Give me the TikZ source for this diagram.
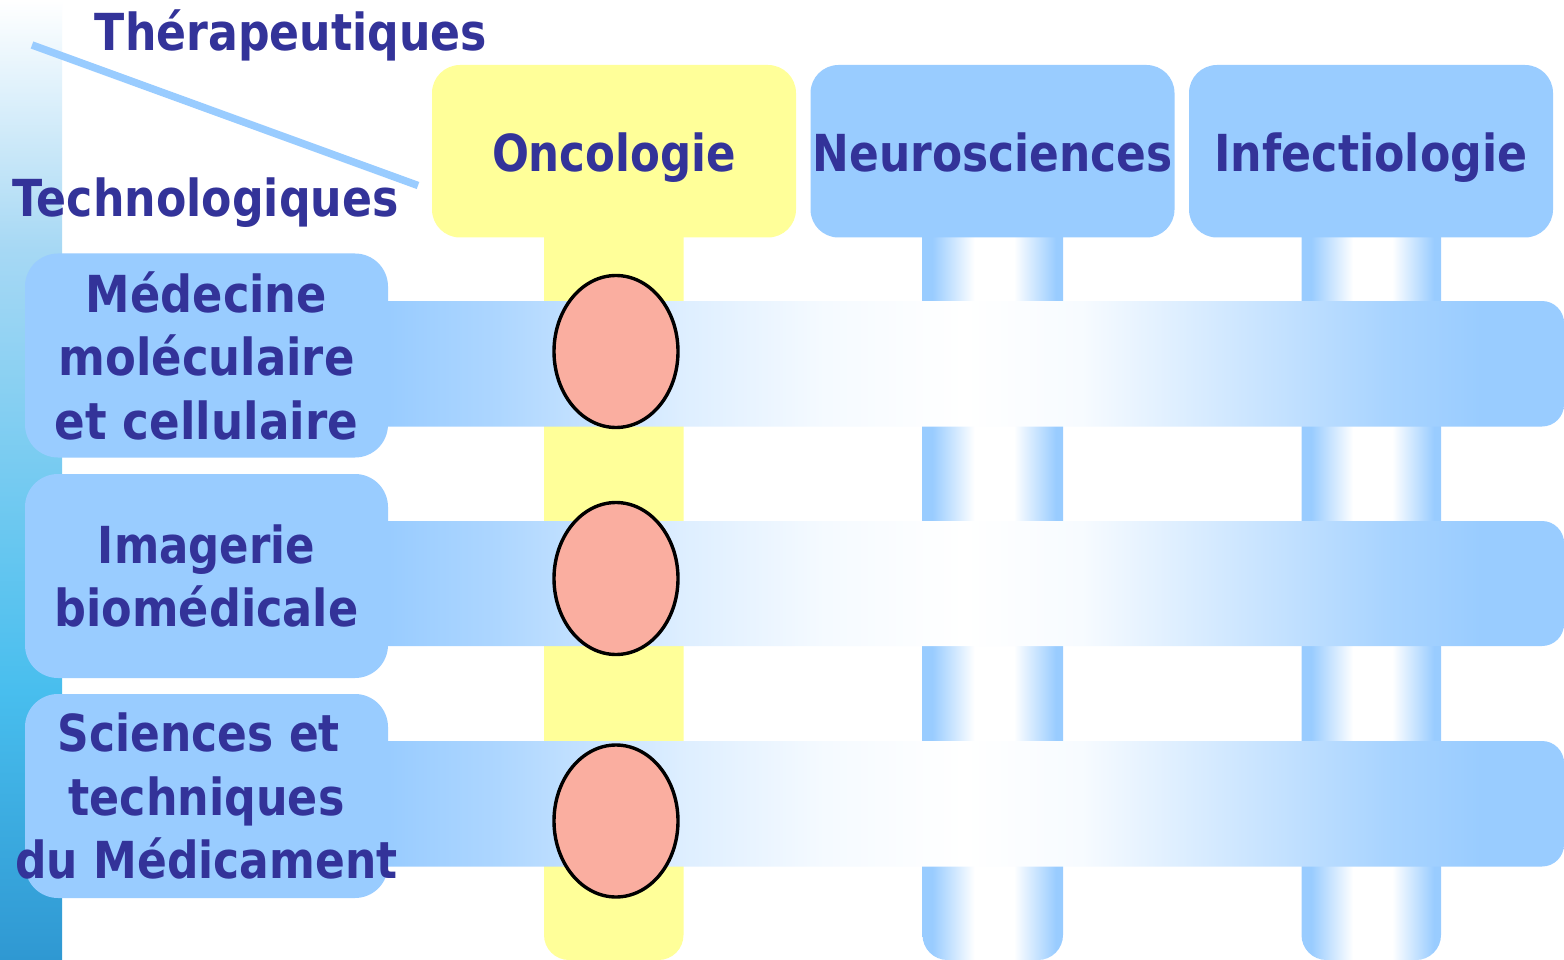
\documentclass[tikz,border=0pt]{standalone}
\usepackage{graphicx}
\usepackage{fontspec}
\setmainfont{DejaVu Sans}
\usetikzlibrary{shapes.geometric}
\definecolor{lb}{HTML}{99CCFF}
\definecolor{yel}{HTML}{FFFF99}
\definecolor{txt}{HTML}{333399}
\definecolor{sal}{HTML}{FAAEA0}
\definecolor{lbA}{HTML}{2F98D2}
\definecolor{lbB}{HTML}{48BEEE}
\definecolor{lbC}{HTML}{A6D8F4}
\colorlet{rbA}{lb!80!white}
\colorlet{rbB}{lb!33!white}
\colorlet{rbE}{lb!10!white}
\colorlet{rbF}{lb!8!white}
\colorlet{rbC}{lb!50!white}
\colorlet{rbD}{lb!85!white}
\pgfdeclareverticalshading{leftbar}{100bp}{color(0bp)=(lbA); color(25bp)=(lbA); color(39bp)=(lbB); color(62bp)=(lbC); color(75bp)=(white); color(100bp)=(white)}
\pgfdeclarehorizontalshading{colbar}{100bp}{color(0bp)=(lb); color(28.5bp)=(lb); color(43.5bp)=(white); color(57.5bp)=(white); color(72.5bp)=(lb); color(100bp)=(lb)}
\pgfdeclarehorizontalshading{rowbar}{100bp}{color(0bp)=(lb); color(25bp)=(lb); color(29.75bp)=(rbA); color(37.5bp)=(rbB); color(43.5bp)=(rbE); color(49.5bp)=(white); color(54.5bp)=(rbF); color(61.5bp)=(rbC); color(67.5bp)=(rbD); color(71.5bp)=(lb); color(100bp)=(lb)}
\newcommand{\fitw}[2]{\resizebox{#1pt}{\height}{#2}}
\begin{document}
\begin{tikzpicture}[x=1pt,y=-1pt,
  every node/.style={inner sep=0pt, outer sep=0pt},
  lbl/.style={font=\fontsize{51}{63.5}\selectfont\bfseries, text=txt},
  hbox/.style={lbl, rounded corners=28pt, minimum width=364pt, minimum height=172.5pt, text height=45.4pt, text depth=5pt},
  rbox/.style={lbl, fill=lb, rounded corners=33pt, minimum width=363pt, minimum height=204pt, align=center},
  dot/.style={ellipse, fill=sal, draw=black, line width=3.4pt, minimum width=124pt, minimum height=152pt}]
\fill[white] (0,0) rectangle (1564,960);
\useasboundingbox (0,0) rectangle (1564,960);
% left gradient bar
\shade[shading=leftbar] (0,0) rectangle (62,960);
% diagonal
\coordinate (d1) at (32,45);
\coordinate (d2) at (418,185.5);
\draw[lb, line width=7.5pt] (d1) -- (d2);
\node[lbl, anchor=base] (thera) at (291,50.7) {\fitw{392}{Thérapeutiques}};
\node[lbl, anchor=base] (techno) at (205.5,216.7) {\fitw{386}{Technologiques}};
% column bars
\fill[yel, rounded corners=25pt] (544,200) rectangle (683.5,960);
\shade[shading=colbar, rounded corners=25pt] (922.5,200) rectangle (1063,960);
\shade[shading=colbar, rounded corners=25pt] (1301.5,200) rectangle (1441,960);
% headers
\node[hbox, fill=yel] (onco) at (614,151.25) {\fitw{244}{Oncologie}};
\node[hbox, fill=lb] (neuro) at (992.5,151.25) {\fitw{360}{Neurosciences}};
\node[hbox, fill=lb] (infect) at (1371,151.25) {\fitw{313}{Infectiologie}};
% row bars
\shade[shading=rowbar, rounded corners=22pt] (388,301) -- (1564,301) -- (1564,426.5) -- (388,426.5);
\shade[shading=rowbar, rounded corners=22pt] (388,521) -- (1564,521) -- (1564,646) -- (388,646);
\shade[shading=rowbar, rounded corners=22pt] (388,741) -- (1564,741) -- (1564,866.5) -- (388,866.5);
% row labels
\node[rbox] (medmol) at (206.5,355.5) {\fitw{241}{Médecine}\\\fitw{296}{moléculaire}\\\fitw{303}{et cellulaire}};
\node[rbox] (imag) at (206.5,576) {\fitw{217}{Imagerie}\\\fitw{304}{biomédicale}};
\node[rbox] (scmed) at (206.5,796) {\fitw{282}{Sciences et}\hspace*{15pt}\\\fitw{276}{techniques}\hspace*{15pt}\\\makebox[0pt]{\fitw{382}{du Médicament}}};
% ellipses
\node[dot] (e1) at (616,351.5) {};
\node[dot] (e2) at (616,578.5) {};
\node[dot] (e3) at (616,821) {};
\end{tikzpicture}
\end{document}
